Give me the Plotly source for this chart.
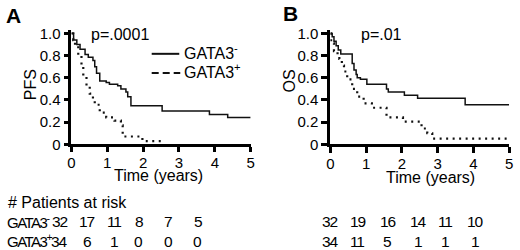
import plotly.graph_objects as go

# ---- data ----
years = [0, 1, 2, 3, 4, 5]

pfs_neg_t = [0, 0.06, 0.15, 0.24, 0.38, 0.47, 0.6, 0.65, 0.7, 0.79, 0.97, 1.06, 1.29, 1.38, 1.52, 1.57, 1.66, 2.53, 3.85, 4.36, 5.0]
pfs_neg_s = [1.0, 0.94, 0.9, 0.857, 0.81, 0.786, 0.757, 0.70, 0.64, 0.571, 0.557, 0.543, 0.529, 0.5, 0.471, 0.43, 0.349, 0.30, 0.27, 0.243, 0.243]

pfs_pos_t = [0, 0.05, 0.1, 0.19, 0.28, 0.33, 0.42, 0.51, 0.6, 0.65, 0.79, 0.97, 1.2, 1.38, 1.43, 1.98, 2.53]
pfs_pos_s = [1.0, 0.94, 0.886, 0.80, 0.714, 0.63, 0.53, 0.457, 0.4, 0.357, 0.286, 0.243, 0.214, 0.171, 0.071, 0.029, 0.029]

os_neg_t = [0, 0.05, 0.1, 0.16, 0.22, 0.29, 0.61, 0.66, 0.72, 0.75, 0.84, 1.02, 1.57, 1.62, 2.07, 2.44, 3.77, 5.0]
os_neg_s = [1.0, 0.97, 0.93, 0.89, 0.85, 0.814, 0.73, 0.67, 0.63, 0.60, 0.586, 0.543, 0.50, 0.471, 0.443, 0.415, 0.357, 0.357]

os_pos_t = [0, 0.02, 0.1, 0.2, 0.25, 0.32, 0.38, 0.47, 0.61, 0.75, 0.93, 1.16, 1.57, 2.03, 2.55, 2.71, 2.85, 5.0]
os_pos_s = [1.0, 0.91, 0.84, 0.8, 0.77, 0.71, 0.657, 0.586, 0.5, 0.43, 0.37, 0.33, 0.243, 0.205, 0.143, 0.1, 0.051, 0.051]

risk_pfs_neg = [32, 17, 11, 8, 7, 5]
risk_pfs_pos = [34, 6, 1, 0, 0, 0]
risk_os_neg = [32, 19, 16, 14, 11, 10]
risk_os_pos = [34, 11, 5, 1, 1, 1]

y_ticks = [0, 0.2, 0.4, 0.6, 0.8, 1.0]
y_ticktext = ["0", "0.2", "0.4", "0.6", "0.8", "1.0"]

# ---- layout helpers (pixel -> paper) ----
W, H = 520, 250
def px(x):
    return x / W
def py(y):
    return 1 - y / H

FONT = "Liberation Sans, Arial, Helvetica, sans-serif"
Y0, UNIT, YTOP = 147.0, 117.0, 1.03

fig = go.Figure()
solid = dict(color="#111111", width=1.5)
dotted = dict(color="#111111", width=2.2, dash="2px,4.5px")

fig.add_trace(go.Scatter(x=pfs_neg_t, y=pfs_neg_s, mode="lines", line=solid, line_shape="hv", xaxis="x", yaxis="y"))
fig.add_trace(go.Scatter(x=pfs_pos_t, y=pfs_pos_s, mode="lines", line=dotted, line_shape="hv", xaxis="x", yaxis="y"))
fig.add_trace(go.Scatter(x=os_neg_t, y=os_neg_s, mode="lines", line=solid, line_shape="hv", xaxis="x2", yaxis="y2"))
fig.add_trace(go.Scatter(x=os_pos_t, y=os_pos_s, mode="lines", line=dotted, line_shape="hv", xaxis="x2", yaxis="y2"))

ydom = [py(Y0), py(Y0 - UNIT * YTOP)]

def xax(dom, lw, tl):
    return dict(domain=dom, range=[0, 5], tickvals=years, ticktext=[str(v) for v in years],
                showline=True, linecolor="#000000", linewidth=lw, ticks="outside", ticklen=tl,
                tickwidth=lw, tickcolor="#000000", showgrid=False, zeroline=False,
                ticklabelstandoff=-2,
                tickfont=dict(family=FONT, size=15, color="black"), fixedrange=True)

def yax(anchor, lw, tl):
    return dict(domain=ydom, range=[0, YTOP], tickvals=y_ticks, ticktext=y_ticktext, anchor=anchor,
                showline=True, linecolor="#000000", linewidth=lw, ticks="outside", ticklen=tl,
                tickwidth=lw, tickcolor="#000000", showgrid=False, zeroline=False,
                tickfont=dict(family=FONT, size=15, color="black"), fixedrange=True)

fig.update_layout(
    width=W, height=H, margin=dict(l=0, r=0, t=0, b=0),
    paper_bgcolor="white", plot_bgcolor="white", showlegend=False,
    xaxis=dict(xax([px(68.5), px(250.5)], 2.8, 5), anchor="y"),
    yaxis=yax("x", 2.8, 5),
    xaxis2=dict(xax([px(331.5), px(513)], 3.2, 6), anchor="y2"),
    yaxis2=yax("x2", 3.2, 6),
)

ann = []
def text(x, y, s, size=16, xanchor="center", bold=False, angle=0):
    ann.append(dict(x=px(x), y=py(y), xref="paper", yref="paper", text=("<b>%s</b>" % s) if bold else s,
                    showarrow=False, xanchor=xanchor, yanchor="middle", textangle=angle,
                    font=dict(family=FONT, size=size, color="black")))

text(10, 11, "A", size=21, bold=True)
text(291, 9, "B", size=21, bold=True)
text(118, 31, "p=.0001", size=16)
text(383, 31, "p=.01", size=16)
text(27, 84, "PFS", size=16, angle=-90)
text(290, 80, "OS", size=16, angle=-90)
text(157, 180, "Time (years)", size=16)
text(433, 182, "Time (years)", size=16)

# legend
text(181, 50, "GATA3<sup>-</sup>", size=16, xanchor="left")
text(181, 70, "GATA3<sup>+</sup>", size=16, xanchor="left")
shapes = [
    dict(type="line", xref="paper", yref="paper", x0=px(150), x1=px(178), y0=py(51.5), y1=py(51.5),
         line=dict(color="#111111", width=2)),
    dict(type="line", xref="paper", yref="paper", x0=px(150), x1=px(179), y0=py(71.7), y1=py(71.7),
         line=dict(color="#111111", width=2, dash="7px,4px")),
]

# risk table
LBLSPAN = '<span style="letter-spacing:-1.5px">%s</span>'
NUMSPAN = '<span style="letter-spacing:-1.2px">%s</span>'
text(2, 208, "# Patients at risk", size=16, xanchor="left")
text(1, 228, (LBLSPAN % "GATA3") + "<sup>-</sup>", size=15, xanchor="left")
text(1, 248, (LBLSPAN % "GATA3") + "<sup>+</sup>", size=15, xanchor="left")
colA = [56, 84, 112, 137, 167, 197]
colB = [331, 359, 389, 420, 448, 478]
for vals, cols, y in [(risk_pfs_neg, colA, 228), (risk_pfs_pos, colA, 249),
                      (risk_os_neg, colB, 228), (risk_os_pos, colB, 249)]:
    for v, c in zip(vals, cols):
        text(c, y, NUMSPAN % str(v), size=15.5)

fig.update_layout(annotations=ann, shapes=shapes)
fig.write_html("out.html", config={"displayModeBar": False},
               post_script="document.body.style.margin='0';document.body.style.overflow='hidden';")
